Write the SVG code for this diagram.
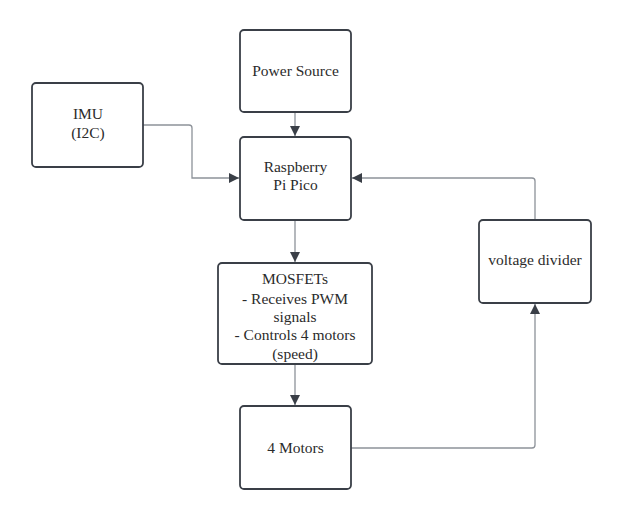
<svg xmlns="http://www.w3.org/2000/svg" width="633" height="526" viewBox="0 0 633 526">
<style>
.box{fill:#ffffff;stroke:#3a3f47;stroke-width:1.8}
.t{font-family:"Liberation Serif","Times New Roman",serif;font-size:15.5px;fill:#2b2b2b;text-anchor:middle}
.c{fill:none;stroke:#8d9299;stroke-width:1.3}
</style>
<defs>
<marker id="ah" viewBox="0 0 10 10" refX="10" refY="5" markerWidth="10" markerHeight="10" markerUnits="userSpaceOnUse" orient="auto">
<path d="M0,0 L10,5 L0,10 z" fill="#3a3f47"/>
</marker>
</defs>
<rect width="633" height="526" fill="#ffffff"/>
<g id="connectors">
<path class="c" d="M295,112 V136" marker-end="url(#ah)"/>
<path class="c" d="M143,125 H189 Q192,125 192,128 V178 H239" marker-end="url(#ah)"/>
<path class="c" d="M535,220 V181 Q535,178 532,178 H352" marker-end="url(#ah)"/>
<path class="c" d="M295,220 V262" marker-end="url(#ah)"/>
<path class="c" d="M295,364 V405" marker-end="url(#ah)"/>
<path class="c" d="M351,448 H532 Q535,448 535,445 V304" marker-end="url(#ah)"/>
</g>
<g id="power-source">
<rect class="box" x="240" y="30" width="111" height="82" rx="4"/>
<text class="t" x="295.5" y="76">Power Source</text>
</g>
<g id="imu">
<rect class="box" x="32" y="83" width="111" height="84" rx="4"/>
<text class="t" x="88" y="119">IMU</text>
<text class="t" x="88" y="138">(I2C)</text>
</g>
<g id="pico">
<rect class="box" x="240" y="137" width="111" height="83" rx="4"/>
<text class="t" x="295.5" y="171.5">Raspberry</text>
<text class="t" x="295.5" y="190">Pi Pico</text>
</g>
<g id="mosfets">
<rect class="box" x="218" y="263" width="154" height="101" rx="4"/>
<text class="t" x="295" y="284">MOSFETs</text>
<text class="t" x="295" y="304">- Receives PWM</text>
<text class="t" x="295" y="321.5">signals</text>
<text class="t" x="295" y="339.5">- Controls 4 motors</text>
<text class="t" x="295" y="359">(speed)</text>
</g>
<g id="motors">
<rect class="box" x="240" y="406" width="111" height="83" rx="4"/>
<text class="t" x="295.5" y="453">4 Motors</text>
</g>
<g id="voltage-divider">
<rect class="box" x="479" y="220" width="112" height="83" rx="4"/>
<text class="t" x="535" y="265">voltage divider</text>
</g>
</svg>
